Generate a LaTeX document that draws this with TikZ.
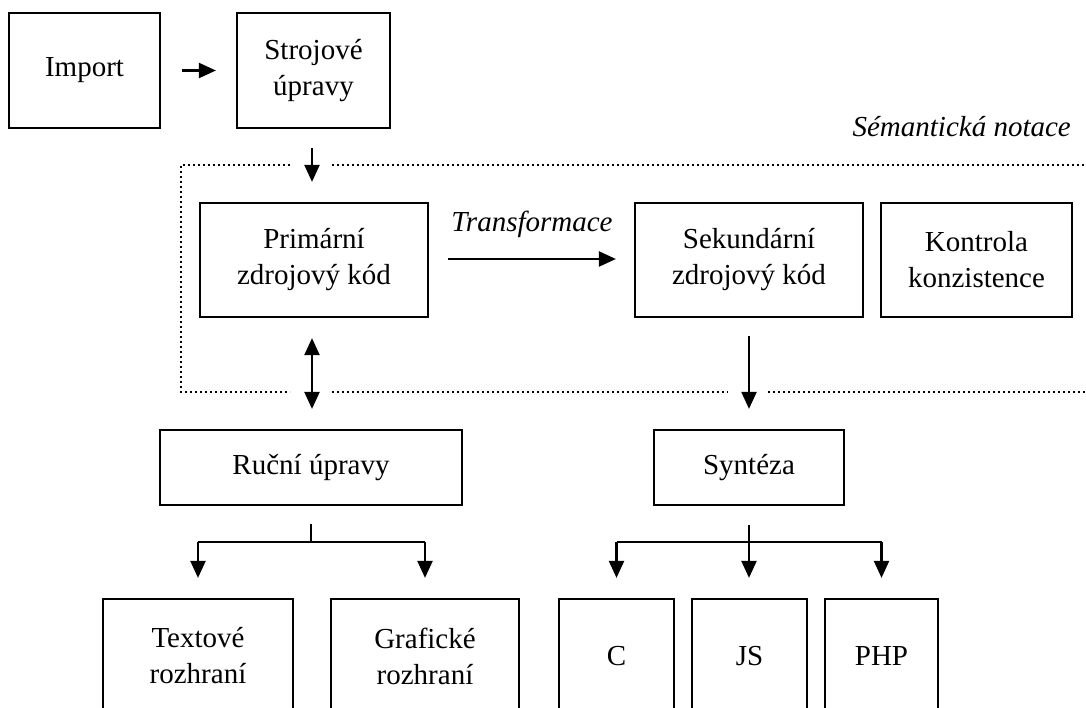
\documentclass[tikz,border=0pt]{standalone}
\usepackage{fontspec}
\setmainfont{Liberation Serif}
\usetikzlibrary{arrows.meta}
\tikzset{
  box/.style={draw, line width=2.2pt, inner sep=0pt, align=center,
    font=\fontsize{29}{36}\selectfont},
  arr/.style={line width=2.2pt, -{Triangle[width=15pt,length=17pt]}},
  dblarr/.style={line width=2.2pt, {Triangle[width=15pt,length=17pt]}-{Triangle[width=15pt,length=17pt]}},
  plain/.style={line width=2.2pt},
  dots/.style={line width=2.4pt, dash pattern=on 2.2pt off 2.8pt},
  lbl/.style={inner sep=0pt, font=\fontsize{29}{36}\selectfont\itshape}
}
\begin{document}
\begin{tikzpicture}[x=1pt,y=-1pt]
\useasboundingbox (0,0) rectangle (1086,708);
\clip (0,0) rectangle (1086,708);
% boxes
\node[box, minimum width=151pt, minimum height=115pt] (imp) at (84.5,70.5) {Import};
\node[box, minimum width=153pt, minimum height=115pt] (stroj) at (313.5,70.5) {Strojové\\úpravy};
\node[box, minimum width=228pt, minimum height=114pt] (prim) at (314,260) {Primární\\zdrojový kód};
\node[box, minimum width=228pt, minimum height=114pt] (sek) at (749,260) {Sekundární\\zdrojový kód};
\node[box, minimum width=191pt, minimum height=114pt] (kontr) at (976.5,260) {Kontrola\\konzistence};
\node[box, minimum width=302pt, minimum height=75pt] (rucni) at (311,467.5) {Ruční úpravy};
\node[box, minimum width=190pt, minimum height=75pt] (synt) at (749,467.5) {Syntéza};
\node[box, minimum width=190pt, minimum height=114pt] (text) at (198,656) {Textové\\rozhraní};
\node[box, minimum width=188pt, minimum height=114pt] (graf) at (425,656) {Grafické\\rozhraní};
\node[box, minimum width=115pt, minimum height=114pt] (c) at (616.5,656) {C};
\node[box, minimum width=115pt, minimum height=114pt] (js) at (749.5,656) {JS};
\node[box, minimum width=113pt, minimum height=114pt] (php) at (881.5,656) {PHP};
% labels
\node[lbl, anchor=base east] (sem) at (1071,137) {Sémantická notace};
\node[lbl, anchor=base] (transf) at (532,232) {Transformace};
% dotted frame
\coordinate (f1) at (290,165);
\coordinate (f2) at (181,165);
\coordinate (f3) at (181,392);
\coordinate (f4) at (290,392);
\coordinate (f5) at (332,165);
\coordinate (f6) at (1086,165);
\coordinate (f7) at (332,392);
\coordinate (f8) at (728,392);
\coordinate (f9) at (768,392);
\coordinate (f10) at (1086,392);
\draw[dots] (f1) -- (f2) -- (f3) -- (f4);
\draw[dots] (f5) -- (f6);
\draw[dots] (f7) -- (f8);
\draw[dots] (f9) -- (f10);
% connectors
\draw[arr] ([xshift=21pt]imp.east) -- ([xshift=-20pt]stroj.west);
\draw[arr] ([xshift=-1.5pt,yshift=-19pt]stroj.south) -- ([xshift=-2pt,yshift=20pt]prim.north);
\draw[arr] ([xshift=19pt,yshift=1pt]prim.east) -- ([xshift=-18pt,yshift=1pt]sek.west);
\draw[dblarr] ([xshift=-2pt,yshift=-20pt]prim.south) -- ([xshift=1pt,yshift=20pt]rucni.north);
\draw[arr] ([yshift=-18pt]sek.south) -- ([yshift=20pt]synt.north);
% manual edits fork
\coordinate (rf) at (311,542);
\draw[plain] ([yshift=-18pt]rucni.south) -- (rf);
\draw[plain] (text.north |- rf) -- (graf.north |- rf);
\draw[arr] (text.north |- rf) -- ([yshift=20pt]text.north);
\draw[arr] (graf.north |- rf) -- ([yshift=20pt]graf.north);
% synthesis fork
\coordinate (sf) at (749,542);
\draw[plain] (c.north |- sf) -- (php.north |- sf);
\draw[arr] ([yshift=-19pt]synt.south) -- ([xshift=-0.5pt,yshift=20pt]js.north);
\draw[arr] (c.north |- sf) -- ([yshift=20pt]c.north);
\draw[arr] (php.north |- sf) -- ([yshift=20pt]php.north);
\end{tikzpicture}
\end{document}
